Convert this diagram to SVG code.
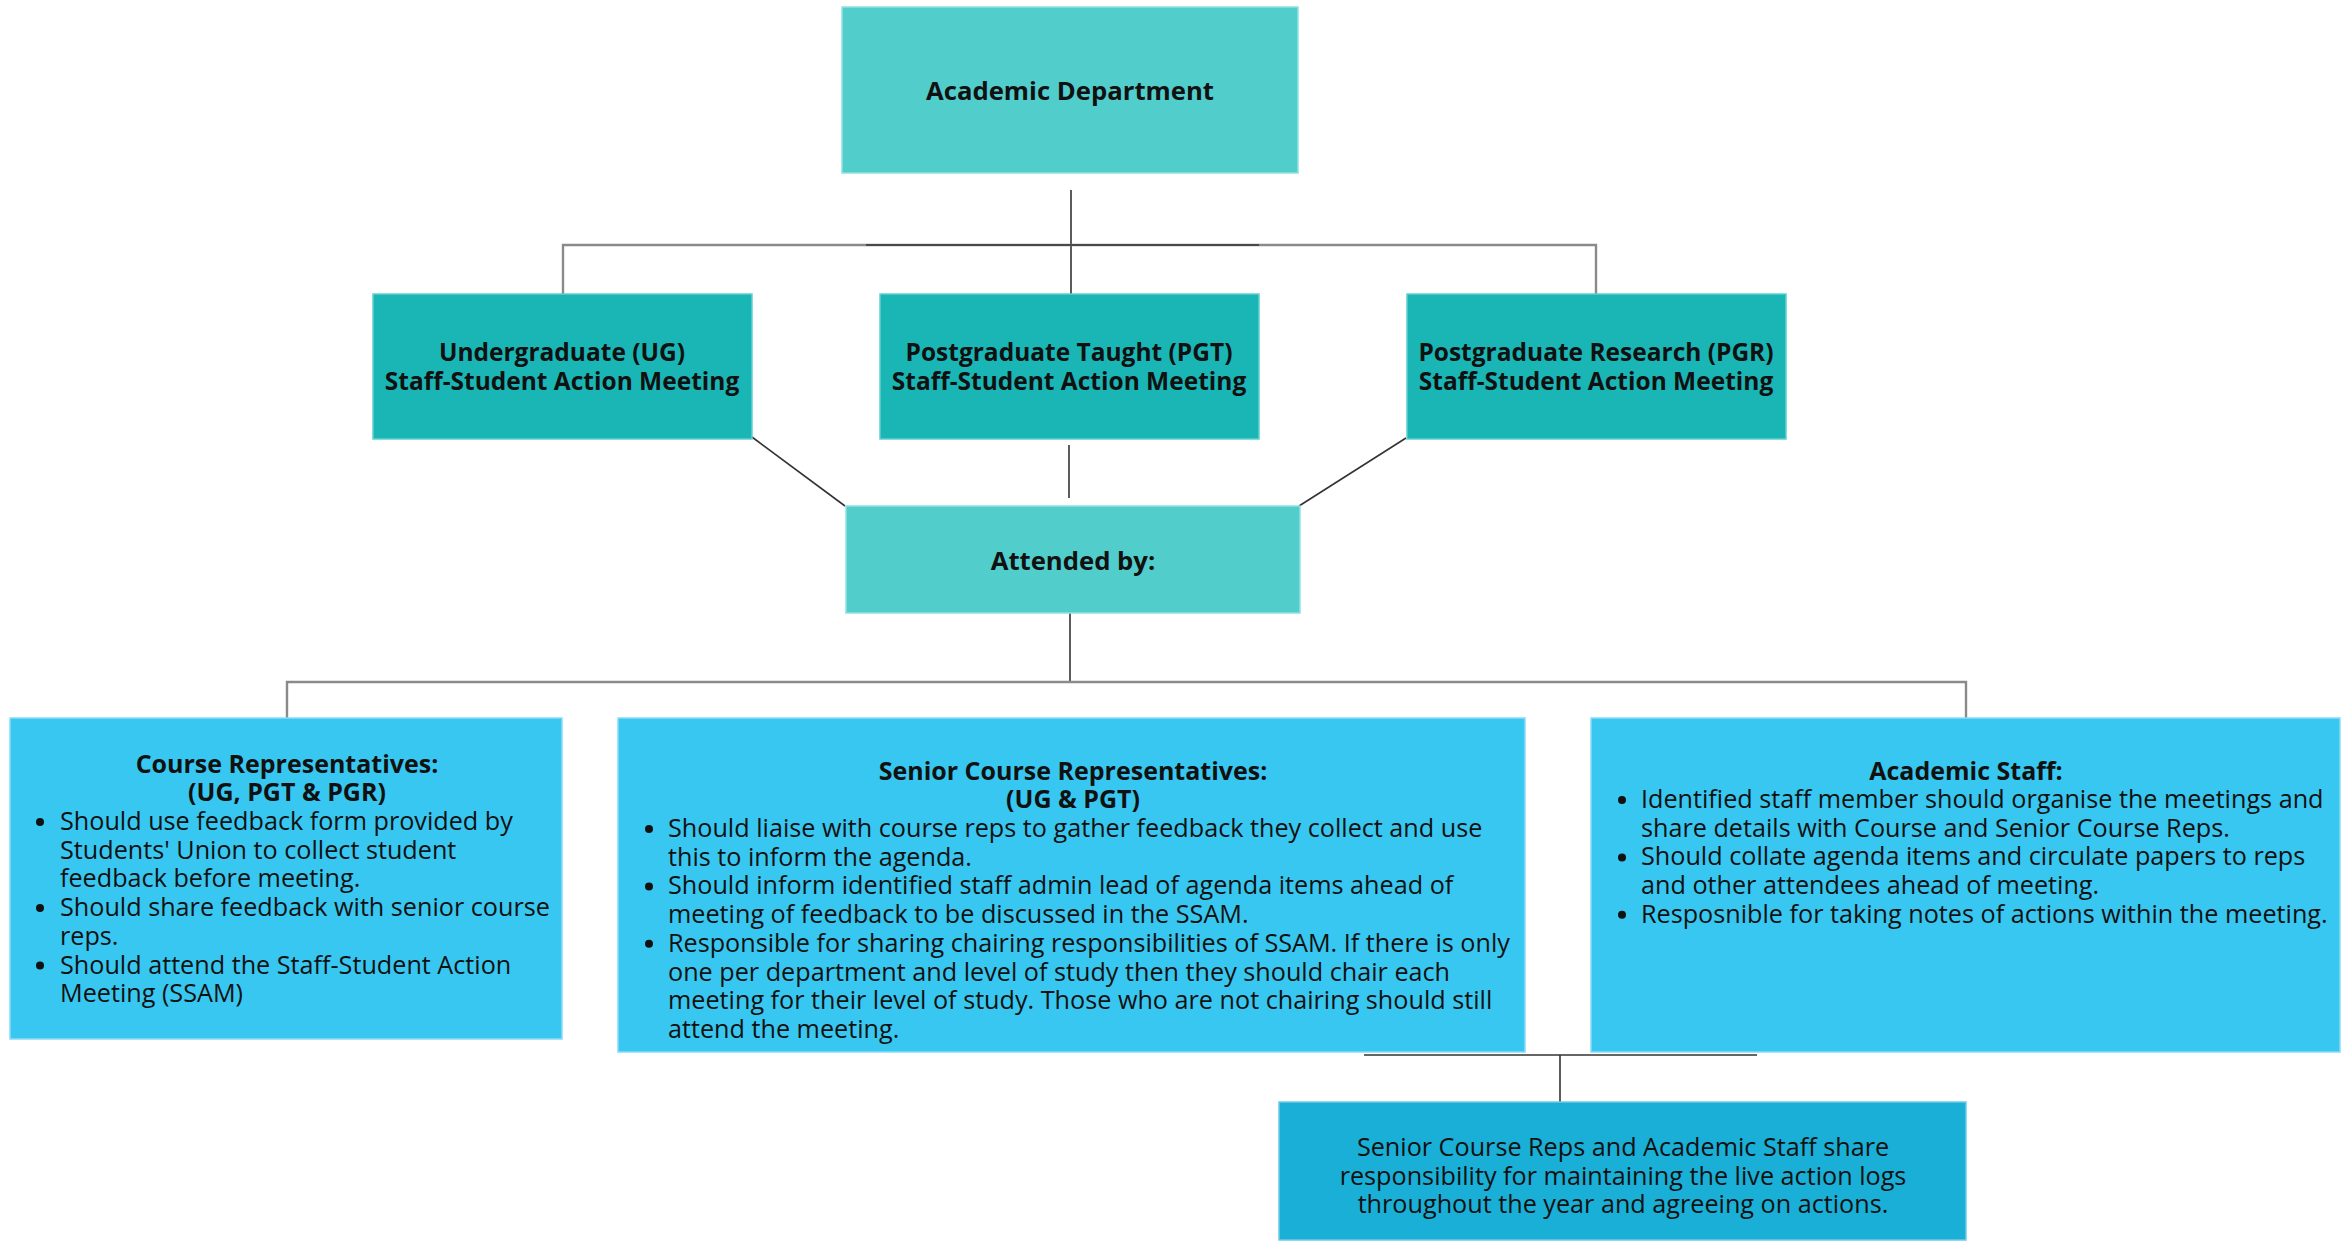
<svg xmlns="http://www.w3.org/2000/svg" width="2348" height="1242" viewBox="0 0 2348 1242">
<style>
.t{font-family:"Open Sans","Liberation Sans",sans-serif;fill:#111}
.c{text-anchor:middle}
.hd{font-size:25.7px;font-weight:bold}
.ht{font-size:25px;font-weight:bold}
.h2{font-size:24.5px;font-weight:bold}
.bd{font-size:25.2px}
.dot{fill:#111}
.ln{stroke:#333;stroke-width:1.6;fill:none}
.lg{stroke:#8a8a8a;stroke-width:2.4;fill:none}
.n1{fill:#51cdcc;stroke:#8fe2e1;stroke-width:1.5}
.n2{fill:#1ab6b6;stroke:#5fd0cf;stroke-width:1.5}
.n3{fill:#38c7f0;stroke:#8adcf6;stroke-width:1.5}
.n4{fill:#19afd6;stroke:#6fcbe6;stroke-width:1.5}
</style>
<defs>
<circle id="bullet" r="4" class="dot"/>
</defs>
<rect width="2348" height="1242" fill="#ffffff"/>
<g id="connectors">
<line class="ln" x1="1071" y1="190" x2="1071" y2="294"/>
<polyline class="lg" points="563,299 563,245 1596,245 1596,300"/>
<line class="ln" x1="866" y1="245" x2="1259" y2="245" stroke-width="2"/>
<line class="ln" x1="752" y1="437" x2="845" y2="506"/>
<line class="ln" x1="1069" y1="445" x2="1069" y2="498"/>
<line class="ln" x1="1406" y1="438" x2="1299" y2="506"/>
<line class="ln" x1="1070" y1="613" x2="1070" y2="682"/>
<polyline class="lg" points="287,731 287,682 1966,682 1966,730"/>
<line class="ln" x1="1364" y1="1055" x2="1757" y2="1055" stroke-width="2"/>
<line class="ln" x1="1560" y1="1055" x2="1560" y2="1107"/>
</g>
<g id="academic-department">
<rect class="n1" x="842" y="7" width="456" height="166"/>
<text class="t hd c" x="1070" y="100">Academic Department</text>
</g>
<g id="ug-meeting">
<rect class="n2" x="373" y="294" width="379" height="145"/>
<text class="t h2 c" x="562" y="361">Undergraduate (UG)</text>
<text class="t h2 c" x="562" y="390">Staff-Student Action Meeting</text>
</g>
<g id="pgt-meeting">
<rect class="n2" x="880" y="294" width="379" height="145"/>
<text class="t h2 c" x="1069" y="361">Postgraduate Taught (PGT)</text>
<text class="t h2 c" x="1069" y="390">Staff-Student Action Meeting</text>
</g>
<g id="pgr-meeting">
<rect class="n2" x="1407" y="294" width="379" height="145"/>
<text class="t h2 c" x="1596" y="361">Postgraduate Research (PGR)</text>
<text class="t h2 c" x="1596" y="390">Staff-Student Action Meeting</text>
</g>
<g id="attended-by">
<rect class="n1" x="846" y="506" width="454" height="107"/>
<text class="t hd c" x="1073" y="570">Attended by:</text>
</g>
<g id="course-reps">
<rect class="n3" x="10" y="718" width="552" height="321"/>
<text class="t ht c" x="287" y="773">Course Representatives:</text>
<text class="t ht c" x="287" y="801">(UG, PGT &amp; PGR)</text>
<use href="#bullet" x="40" y="822"/>
<use href="#bullet" x="40" y="908"/>
<use href="#bullet" x="40" y="965.5"/>
<g class="t bd">
<text x="60" y="830">Should use feedback form provided by</text>
<text x="60" y="858.7">Students' Union to collect student</text>
<text x="60" y="887.4">feedback before meeting.</text>
<text x="60" y="916.1">Should share feedback with senior course</text>
<text x="60" y="944.8">reps.</text>
<text x="60" y="973.5">Should attend the Staff-Student Action</text>
<text x="60" y="1002.2">Meeting (SSAM)</text>
</g>
</g>
<g id="senior-course-reps">
<rect class="n3" x="618" y="718" width="907" height="334"/>
<text class="t ht c" x="1073" y="780">Senior Course Representatives:</text>
<text class="t ht c" x="1073" y="808">(UG &amp; PGT)</text>
<use href="#bullet" x="649" y="829"/>
<use href="#bullet" x="649" y="886.4"/>
<use href="#bullet" x="649" y="943.8"/>
<g class="t bd">
<text x="668" y="837">Should liaise with course reps to gather feedback they collect and use</text>
<text x="668" y="865.7">this to inform the agenda.</text>
<text x="668" y="894.4">Should inform identified staff admin lead of agenda items ahead of</text>
<text x="668" y="923.1">meeting of feedback to be discussed in the SSAM.</text>
<text x="668" y="951.8">Responsible for sharing chairing responsibilities of SSAM. If there is only</text>
<text x="668" y="980.5">one per department and level of study then they should chair each</text>
<text x="668" y="1009.2">meeting for their level of study. Those who are not chairing should still</text>
<text x="668" y="1037.9">attend the meeting.</text>
</g>
</g>
<g id="academic-staff">
<rect class="n3" x="1591" y="718" width="749" height="334"/>
<text class="t ht c" x="1966" y="780">Academic Staff:</text>
<use href="#bullet" x="1622" y="800"/>
<use href="#bullet" x="1622" y="857.4"/>
<use href="#bullet" x="1622" y="914.8"/>
<g class="t bd">
<text x="1641" y="808">Identified staff member should organise the meetings and</text>
<text x="1641" y="836.7">share details with Course and Senior Course Reps.</text>
<text x="1641" y="865.4">Should collate agenda items and circulate papers to reps</text>
<text x="1641" y="894.1">and other attendees ahead of meeting.</text>
<text x="1641" y="922.8">Resposnible for taking notes of actions within the meeting.</text>
</g>
</g>
<g id="shared-responsibility">
<rect class="n4" x="1279" y="1102" width="687" height="138"/>
<g class="t bd c">
<text x="1623" y="1156">Senior Course Reps and Academic Staff share</text>
<text x="1623" y="1185">responsibility for maintaining the live action logs</text>
<text x="1623" y="1213">throughout the year and agreeing on actions.</text>
</g>
</g>
</svg>
